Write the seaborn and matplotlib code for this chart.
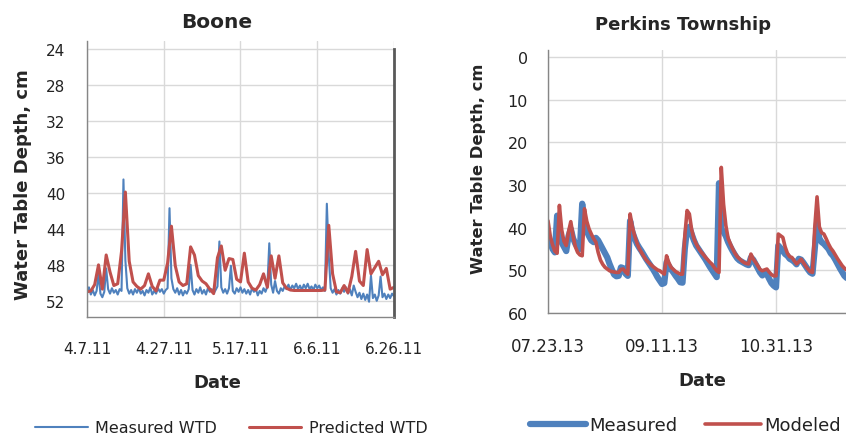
import matplotlib
matplotlib.use("Agg")
import matplotlib.pyplot as plt
import pandas as pd
import seaborn as sns

# ---- Boone: water table depth (cm), measured every 12 h, predicted daily ----
boone_measured = [
    51.0, 50.5, 51.3, 50.8, 51.4, 50.9, 49.0, 51.2, 51.6, 51.0,
    48.4, 50.7, 51.2, 50.6, 51.1, 50.8, 51.3, 50.7, 50.9, 38.5,
    47.5, 50.6, 51.2, 50.8, 51.3, 50.7, 51.1, 50.6, 51.2, 50.9,
    51.4, 50.8, 51.1, 50.5, 51.3, 50.9, 51.2, 50.6, 51.0, 50.7,
    51.2, 50.8, 50.6, 41.7, 49.5, 50.7, 51.1, 50.6, 51.3, 50.8,
    51.4, 50.9, 51.2, 50.7, 48.0, 50.8, 51.3, 50.7, 51.1, 50.5,
    51.2, 50.8, 51.3, 50.6, 51.0, 50.7, 51.2, 50.8, 50.4, 45.4,
    50.5, 51.1, 50.7, 51.2, 50.6, 48.1, 50.9, 51.2, 50.6, 51.0,
    50.5, 51.1, 50.7, 51.2, 50.8, 51.3, 50.6, 51.0, 50.7, 51.4,
    50.9, 51.2, 50.6, 51.0, 50.4, 45.6, 50.2, 51.1, 49.8, 50.9,
    51.2, 50.6, 50.9, 50.4, 50.7, 50.2, 50.8, 50.3, 50.6, 50.1,
    50.7, 50.3, 50.8, 50.2, 50.6, 50.1, 50.7, 50.4, 50.8, 50.2,
    50.6, 50.3, 50.8, 50.5, 50.9, 41.2, 47.0, 50.6, 51.1, 50.7,
    51.3, 50.8, 51.2, 50.6, 51.0, 50.5, 51.2, 50.7, 51.4, 50.3,
    51.0, 51.6, 51.1, 51.8, 51.2, 51.9, 51.3, 52.1, 49.2, 51.7,
    51.3, 52.0, 51.4, 49.3, 51.6, 51.2, 51.8, 51.3, 51.7, 51.2,
    51.5,
]
boone_predicted = [
    51.0, 50.9, 50.2, 48.0, 50.7, 46.9, 48.8, 50.3, 50.1, 46.5,
    39.9, 47.6, 49.9, 50.4, 50.7, 50.3, 49.0, 50.4, 50.9, 49.7,
    49.7, 47.8, 43.7, 48.1, 49.9, 50.3, 50.1, 46.0, 46.9, 49.2,
    49.8, 50.1, 50.7, 51.2, 47.2, 45.9, 48.6, 47.3, 47.4, 49.6,
    49.9, 46.7, 49.9, 50.6, 50.8, 50.2, 49.0, 50.5, 47.0, 49.5,
    47.0, 50.0, 50.6, 50.8, 50.85, 50.85, 50.85, 50.85, 50.85, 50.85,
    50.85, 50.85, 50.8, 43.6, 49.0, 51.0, 51.1, 50.3, 51.1, 49.3,
    46.5, 49.8, 50.3, 46.3, 49.0, 48.3, 47.6, 49.1, 48.4, 50.7,
    50.5,
]
boone_tick_labels = ["4.7.11", "4.27.11", "5.17.11", "6.6.11", "6.26.11"]
boone_yticks = [24, 28, 32, 36, 40, 44, 48, 52]

# ---- Perkins Township: daily water table depth (cm) ----
perkins_measured = [
    42.0, 43.5, 45.0, 45.8, 37.2, 41.0, 43.5, 44.5, 45.5, 42.0,
    40.3, 42.5, 43.8, 44.6, 45.0, 34.4, 39.0, 40.8, 42.0, 43.0,
    43.4, 42.4, 43.0, 44.0, 45.0, 46.0, 47.0, 48.5, 49.8, 51.0,
    51.4, 51.3, 49.3, 49.5, 50.8, 51.3, 38.4, 41.0, 42.5, 43.8,
    44.7, 45.5, 46.4, 47.3, 48.1, 48.9, 49.7, 50.6, 51.6, 52.4,
    53.2, 53.0, 48.1, 49.0, 49.8, 50.5, 51.3, 52.0, 52.8, 52.9,
    45.0, 40.3, 39.8, 41.5, 43.0, 44.2, 45.0, 45.8, 46.6, 47.4,
    48.3, 49.2, 50.0, 50.8, 51.6, 29.6, 40.3, 41.0, 42.0, 43.4,
    44.5, 45.5, 46.4, 47.2, 47.7, 48.0, 48.3, 48.6, 48.8, 47.0,
    47.5, 48.5, 49.5, 50.5, 51.2, 50.6, 50.9, 52.0, 53.0, 53.6,
    54.0, 44.2, 44.8, 45.5, 46.2, 46.6, 47.3, 47.6, 48.0, 48.6,
    47.3, 47.5, 48.2, 49.0, 49.8, 50.5, 50.8, 45.0, 38.9, 42.5,
    43.4, 43.8, 44.4, 45.0, 46.0, 46.6, 47.5, 48.5, 49.5, 50.4,
    51.3, 51.8,
]
perkins_modeled = [
    38.4, 42.0, 44.0, 45.5, 46.0, 34.8, 40.5, 43.2, 44.2, 41.0,
    38.6, 42.0, 44.5, 45.8, 46.4, 46.6, 35.6, 38.5, 40.3, 41.5,
    42.6, 43.4, 45.8, 47.6, 48.6, 49.3, 49.7, 50.1, 50.3, 50.4,
    50.5, 50.5, 49.8, 49.7, 50.4, 50.9, 36.8, 39.8, 41.9, 43.6,
    44.9, 45.8, 46.7, 47.5, 48.1, 48.6, 49.1, 49.5, 49.9, 50.1,
    50.5, 50.9, 46.6, 48.2, 49.3, 49.8, 50.3, 50.6, 50.9, 50.9,
    42.0, 36.0, 36.8, 40.5, 42.6, 43.8, 44.8, 45.6, 46.2, 46.9,
    47.5, 48.1, 48.6, 49.4, 50.1, 50.5, 25.9, 34.5, 39.5, 42.5,
    43.8, 45.0, 46.0, 46.8, 47.3, 47.8, 48.2, 48.4, 48.5, 46.2,
    47.3, 48.1, 48.9, 49.8, 50.1, 49.9, 49.7, 50.4, 51.0, 51.3,
    51.3, 41.5, 41.9, 42.3, 44.5, 46.0, 46.8, 47.0, 47.8, 48.5,
    48.0, 47.4, 48.2, 49.0, 49.7, 50.3, 50.5, 40.0, 32.8, 39.8,
    41.2, 41.5, 42.6, 43.8, 44.8, 45.5, 46.4, 47.3, 48.1, 48.9,
    49.5, 49.9,
]
perkins_tick_labels = ["07.23.13", "09.11.13", "10.31.13"]
perkins_yticks = [0, 10, 20, 30, 40, 50, 60]

BLUE = "#4f81bd"
RED = "#c0504d"
GRID = "#d9d9d9"
AXIS = "#868686"

W, H = 846, 439
sns.set_style("white")
plt.rcParams["font.family"] = ["DejaVu Sans"]
fig = plt.figure(figsize=(W / 100, H / 100), dpi=100)


def px_box(left, top, right, bottom):
    return [left / W, 1 - bottom / H, (right - left) / W, (bottom - top) / H]


def style_axes(ax, tick_dates, tick_labels, yticks, xsize, ysize, ypad):
    ax.set_xticks(tick_dates)
    ax.set_xticklabels(tick_labels)
    ax.set_yticks(yticks)
    ax.grid(True, color=GRID, linewidth=1.0)
    ax.set_axisbelow(True)
    for side in ("left", "bottom"):
        ax.spines[side].set_color(AXIS)
        ax.spines[side].set_linewidth(1.0)
    ax.spines["top"].set_visible(False)
    ax.tick_params(axis="x", length=0, pad=17, labelsize=xsize, labelcolor="#222222")
    ax.tick_params(axis="y", length=5, width=1, color=AXIS, direction="out",
                   pad=ypad, labelsize=ysize, labelcolor="#222222")
    ax.set_xlabel("")
    ax.set_ylabel("")


# ---------------- Boone ----------------
ax1 = fig.add_axes(px_box(87, 42, 394, 318))
b_meas_dates = pd.date_range("2011-04-07", periods=len(boone_measured), freq="12h")
b_pred_dates = pd.date_range("2011-04-07", periods=len(boone_predicted), freq="D")
sns.lineplot(x=b_meas_dates, y=boone_measured, ax=ax1, color=BLUE,
             linewidth=1.5, legend=False)
sns.lineplot(x=b_pred_dates, y=boone_predicted, ax=ax1, color=RED,
             linewidth=2.2, legend=False)
b_ticks = pd.date_range("2011-04-07", periods=len(boone_tick_labels), freq="20D")
ax1.set_xlim(b_ticks[0], b_ticks[-1])
ax1.set_ylim(53.8, 23.1)
style_axes(ax1, b_ticks, boone_tick_labels, boone_yticks, 11, 11, 10.5)
ax1.spines["right"].set_color("#595959")
ax1.spines["right"].set_linewidth(2.0)
ax1.spines["right"].set_bounds(53.8, 24)

fig.text(217 / W, 1 - 23 / H, "Boone", ha="center", va="center",
         fontsize=14.5, fontweight="bold")
fig.text(217 / W, 1 - 383 / H, "Date", ha="center", va="center",
         fontsize=13, fontweight="bold")
fig.text(23 / W, 1 - 185 / H, "Water Table Depth, cm", ha="center", va="center",
         rotation=90, fontsize=13, fontweight="bold")

leg1 = fig.legend(handles=ax1.lines[:2], labels=["Measured WTD", "Predicted WTD"],
                  loc="center left", bbox_to_anchor=(35 / W, 10 / H), ncol=2,
                  frameon=False, fontsize=11.5, handlelength=3.3,
                  handletextpad=0.45, columnspacing=2.0, borderpad=0,
                  borderaxespad=0)
for t in leg1.get_texts():
    t.set_color("#222222")

# ---------------- Perkins Township ----------------
# the date axis runs on past the right edge of the figure, to 12.20.13
ax2 = fig.add_axes(px_box(548, 51, 548 + 150 * 2.28, 314))
p_dates = pd.date_range("2013-07-23", periods=len(perkins_measured), freq="D")
sns.lineplot(x=p_dates, y=perkins_measured, ax=ax2, color=BLUE,
             linewidth=4.5, legend=False)
sns.lineplot(x=p_dates, y=perkins_modeled, ax=ax2, color=RED,
             linewidth=2.6, legend=False)
p_ticks = pd.date_range("2013-07-23", periods=len(perkins_tick_labels), freq="50D")
ax2.set_xlim(pd.Timestamp("2013-07-23"), pd.Timestamp("2013-12-20"))
ax2.set_ylim(60, -1.6)
style_axes(ax2, p_ticks, perkins_tick_labels, perkins_yticks, 12, 11.5, 9.5)
ax2.axvline(pd.Timestamp("2013-12-20"), color=GRID, linewidth=1.0, zorder=0)
ax2.spines["right"].set_visible(False)

fig.text(683 / W, 1 - 25 / H, "Perkins Township", ha="center", va="center",
         fontsize=13, fontweight="bold")
fig.text(702 / W, 1 - 381 / H, "Date", ha="center", va="center",
         fontsize=13, fontweight="bold")
fig.text(478 / W, 1 - 169 / H, "Water Table Depth, cm", ha="center", va="center",
         rotation=90, fontsize=11.8, fontweight="bold")

leg2 = fig.legend(handles=ax2.lines[:2], labels=["Measured", "Modeled"],
                  loc="center left", bbox_to_anchor=(530 / W, 13 / H), ncol=2,
                  frameon=False, fontsize=13, handlelength=3.1,
                  handletextpad=0.2, columnspacing=1.5, borderpad=0,
                  borderaxespad=0)
for t in leg2.get_texts():
    t.set_color("#222222")

fig.savefig("out.png", dpi=100)
